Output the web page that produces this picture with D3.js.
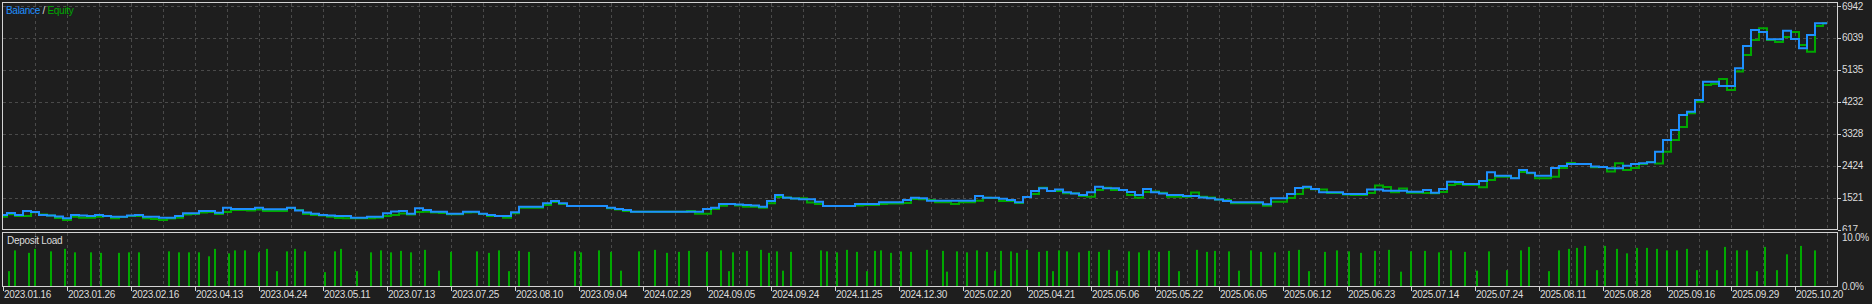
<!DOCTYPE html>
<html>
<head>
<meta charset="utf-8">
<script src="https://cdn.jsdelivr.net/npm/d3@7"></script>
<style>
  html, body { margin: 0; padding: 0; background: #1e1e1e; }
  svg { display: block; }
  text { font-family: "Liberation Sans", Arial, sans-serif; font-size: 10px; fill: #dcdcdc; letter-spacing: -0.3px; }
</style>
</head>
<body>
<svg id="chart" width="1872" height="304"></svg>
<script>
// x axis labels, one every 32 deals
var dateLabels = ["2023.01.16", "2023.01.26", "2023.02.16", "2023.04.13", "2023.04.24", "2023.05.11",
  "2023.07.13", "2023.07.25", "2023.08.10", "2023.09.04", "2024.02.29", "2024.09.05", "2024.09.24",
  "2024.11.25", "2024.12.30", "2025.02.20", "2025.04.21", "2025.05.06", "2025.05.22", "2025.06.05",
  "2025.06.12", "2025.06.23", "2025.07.14", "2025.07.24", "2025.08.11", "2025.08.28", "2025.09.16",
  "2025.09.29", "2025.10.20"];
var yTicks = [617, 1521, 2424, 3328, 4232, 5135, 6039, 6942];
var loadTicks = [0, 10];

// balance / equity, one value every 4 deals
var balance = [1027, 1085, 1027, 1141, 1110, 1027, 1013, 985, 934, 1027,
  1013, 999, 1027, 999, 979, 979, 1013, 1027, 979, 979,
  951, 951, 999, 1075, 1075, 1141, 1141, 1092, 1234, 1197,
  1197, 1197, 1234, 1189, 1189, 1189, 1234, 1155, 1098, 1064,
  1027, 1013, 999, 999, 951, 951, 979, 979, 1075, 1127,
  1141, 1064, 1217, 1169, 1121, 1121, 1064, 1064, 1121, 1121,
  1064, 1027, 999, 999, 1104, 1262, 1262, 1262, 1358, 1424,
  1358, 1282, 1282, 1282, 1282, 1282, 1234, 1197, 1169, 1121,
  1121, 1121, 1121, 1121, 1121, 1121, 1121, 1121, 1197, 1234,
  1339, 1339, 1325, 1310, 1296, 1262, 1424, 1593, 1517, 1495,
  1472, 1472, 1404, 1282, 1282, 1282, 1282, 1339, 1339, 1339,
  1387, 1387, 1387, 1452, 1517, 1500, 1432, 1432, 1432, 1432,
  1432, 1432, 1565, 1517, 1517, 1486, 1452, 1387, 1537, 1707,
  1783, 1707, 1749, 1670, 1636, 1593, 1670, 1828, 1783, 1783,
  1735, 1679, 1593, 1763, 1670, 1636, 1593, 1593, 1565, 1565,
  1523, 1500, 1466, 1424, 1387, 1387, 1387, 1387, 1330, 1500,
  1500, 1622, 1791, 1828, 1763, 1670, 1670, 1670, 1622, 1622,
  1622, 1749, 1749, 1715, 1715, 1715, 1687, 1687, 1735, 1658,
  1763, 1970, 1961, 1905, 1905, 1990, 2236, 2140, 2140, 2066,
  2301, 2224, 2140, 2140, 2357, 2414, 2471, 2471, 2471, 2400,
  2386, 2349, 2349, 2423, 2471, 2490, 2519, 2819, 3150, 3433,
  3858, 3951, 4282, 4800, 4800, 4678, 4678, 5179, 5810, 6263,
  6206, 6000, 6000, 6243, 6008, 5745, 6121, 6452, 6452];

var equity = [979, 1047, 999, 999, 1104, 1041, 1013, 942, 886, 979,
  951, 951, 979, 999, 934, 971, 999, 999, 934, 914,
  886, 928, 951, 1041, 1055, 1098, 1110, 1055, 1110, 1169,
  1169, 1155, 1183, 1141, 1141, 1141, 1225, 1169, 1055, 1027,
  1013, 979, 942, 934, 934, 934, 934, 951, 999, 1027,
  1070, 1041, 1110, 1121, 1098, 1085, 1047, 1047, 1098, 1104,
  1055, 999, 999, 951, 1075, 1234, 1234, 1234, 1310, 1396,
  1339, 1282, 1282, 1282, 1282, 1282, 1217, 1183, 1141, 1121,
  1121, 1121, 1121, 1121, 1121, 1121, 1141, 1064, 1064, 1197,
  1291, 1339, 1296, 1262, 1262, 1234, 1358, 1537, 1523, 1495,
  1500, 1378, 1339, 1282, 1282, 1282, 1282, 1296, 1310, 1310,
  1339, 1353, 1353, 1367, 1480, 1472, 1452, 1387, 1387, 1339,
  1387, 1387, 1432, 1517, 1509, 1424, 1424, 1367, 1537, 1622,
  1800, 1707, 1707, 1642, 1642, 1565, 1545, 1735, 1800, 1735,
  1735, 1593, 1517, 1679, 1693, 1658, 1545, 1545, 1545, 1664,
  1545, 1523, 1466, 1452, 1358, 1358, 1358, 1358, 1291, 1404,
  1404, 1509, 1622, 1800, 1755, 1749, 1650, 1650, 1608, 1593,
  1593, 1650, 1862, 1820, 1670, 1777, 1658, 1658, 1650, 1642,
  1679, 1876, 1905, 1876, 1876, 1811, 2018, 2112, 2112, 2074,
  2245, 2207, 2066, 2066, 2112, 2357, 2499, 2471, 2471, 2377,
  2386, 2258, 2490, 2301, 2357, 2471, 2528, 2485, 2819, 3150,
  3518, 3906, 4234, 4707, 4735, 4876, 4565, 5085, 5555, 5980,
  6311, 5980, 5924, 6065, 6206, 5838, 5650, 6376, 6452];

// deposit load (%) by deal number
var loadDeals = [3, 6, 13, 16, 24, 31, 36, 44, 49, 58, 63, 68, 83, 88, 93, 98, 103, 106, 113, 116,
  121, 128, 132, 137, 142, 146, 151, 161, 166, 169, 177, 184, 189, 194,
  199, 204, 211, 218, 224, 237, 243, 248, 253, 258, 263, 286, 289, 298, 304, 309, 318, 326, 332, 338, 343,
  352, 359, 363, 365, 372, 379, 383, 387, 390, 394, 409, 412, 417, 422, 427, 432, 436, 439, 444, 449,
  454, 462, 470, 472, 477, 482, 487, 492, 496, 499, 504, 507, 512, 518, 522, 525, 528, 532, 538, 543,
  548, 553, 557, 563, 568, 573, 578, 583, 588, 597, 602, 606,
  613, 618, 624, 629, 636, 643, 648, 653, 661, 667, 673, 679, 686, 693, 699, 704, 711, 718, 724, 731, 737, 743,
  752, 759, 763, 773, 778, 783, 787, 791, 797, 801, 807, 812, 817, 822, 827, 832, 837, 842, 847, 852,
  857, 861, 867, 872, 877, 881, 887, 892, 899, 906];
var loadValues = [3.1, 7.3, 6.8, 7.6, 7.1, 7.6, 6.9, 6.9, 6.8, 6.8, 6.9, 6.9, 7.1, 6.9, 6.9, 6.9, 6.1, 7.6, 6.7, 7.3,
  7.3, 6.9, 7.6, 3.1, 7.1, 7.6, 7.1, 2.9, 7.1, 7.6, 3.1, 6.9, 7.3, 6.9,
  7.2, 6.9, 7.4, 3.2, 7.0, 7.1, 6.8, 7.3, 3.1, 7.2, 7.0, 7.1, 6.9, 7.3, 7.0, 3.2, 7.1, 7.4, 6.8, 7.0, 7.2,
  7.0, 7.3, 3.1, 6.9, 7.2, 7.4, 6.8, 7.1, 3.2, 7.0, 7.3, 7.1, 6.9, 7.4, 7.0, 3.1, 7.2, 7.3, 6.8, 7.1,
  7.0, 7.4, 7.2, 3.0, 7.1, 6.9, 7.3, 7.0, 3.2, 7.2, 7.1, 6.8, 7.4, 7.0, 7.2, 3.1, 7.3, 7.1, 6.9, 7.2,
  7.0, 7.4, 3.2, 7.1, 6.9, 7.3, 7.0, 7.2, 3.1, 7.4, 7.0, 7.2,
  7.1, 3.2, 7.3, 7.0, 6.9, 7.2, 7.4, 3.1, 7.0, 7.3, 7.1, 6.8, 7.2, 7.4, 3.0, 7.1, 7.2, 6.9, 7.3, 7.0, 3.2, 7.1,
  3.3, 7.3, 8.0, 3.1, 7.3, 7.6, 7.8, 8.2, 3.3, 8.2, 7.6, 6.7, 7.8, 7.8, 7.6, 7.3, 7.3, 7.6, 3.3, 7.3,
  3.3, 8.0, 7.3, 7.3, 3.1, 8.0, 3.3, 6.5, 8.2, 7.3];

var svg = d3.select("#chart");
var bg = "#1e1e1e", border = "#d4d4d4", gridColor = "#4a4a4a";
var blue = "#1e90ff", green = "#00a800";

var x = d3.scaleLinear().domain([0, 916]).range([3, 1835]);
var y = d3.scaleLinear().domain([617, 6942]).range([229.5, 6]);
var yLoad = d3.scaleLinear().domain([0, 10]).range([286.5, 237]);

svg.append("rect").attr("width", 1872).attr("height", 304).attr("fill", bg);

// main panel grid
var gridDeals = d3.range(16, 913, 16);
var grid = svg.append("g").attr("stroke", gridColor).attr("stroke-dasharray", "3,3");
grid.selectAll(".vm").data(gridDeals).enter().append("line")
  .attr("x1", function (d) { return Math.round(x(d)) + 0.5; })
  .attr("x2", function (d) { return Math.round(x(d)) + 0.5; })
  .attr("y1", 3).attr("y2", 229);
grid.selectAll(".hm").data(yTicks.slice(1)).enter().append("line")
  .attr("x1", 3).attr("x2", 1837)
  .attr("y1", function (d) { return Math.round(y(d)) + 0.5; })
  .attr("y2", function (d) { return Math.round(y(d)) + 0.5; });

// y axis labels + ticks
svg.selectAll(".ylab").data(yTicks).enter().append("text")
  .attr("x", 1842).attr("y", function (d) { return y(d); })
  .attr("dy", "0.35em").text(function (d) { return d; });
svg.selectAll(".ytick").data(yTicks).enter().append("line")
  .attr("x1", 1838).attr("x2", 1841)
  .attr("y1", function (d) { return Math.round(y(d)) + 0.5; })
  .attr("y2", function (d) { return Math.round(y(d)) + 0.5; })
  .attr("stroke", border);

// lines (stepped like the tester's deal-by-deal curve)
var clip = svg.append("clipPath").attr("id", "mainClip");
clip.append("rect").attr("x", 3).attr("y", 3).attr("width", 1834).attr("height", 226);

var line = d3.line()
  .curve(d3.curveStep)
  .x(function (d, i) { return x(i * 4); })
  .y(function (d) { return y(d); });

svg.append("path").datum(equity).attr("clip-path", "url(#mainClip)")
  .attr("fill", "none").attr("stroke", green).attr("stroke-width", 2)
  .attr("d", line);
svg.append("path").datum(balance).attr("clip-path", "url(#mainClip)")
  .attr("fill", "none").attr("stroke", blue).attr("stroke-width", 2)
  .attr("d", line);

svg.append("rect").attr("x", 2.5).attr("y", 2.5).attr("width", 1835).attr("height", 227)
  .attr("fill", "none").attr("stroke", border);

var legend = svg.append("text").attr("x", 6).attr("y", 14);
legend.append("tspan").text("Balance").style("fill", blue);
legend.append("tspan").text(" / ").style("fill", "#dcdcdc");
legend.append("tspan").text("Equity").style("fill", green);

// deposit load panel
svg.append("rect").attr("x", 0).attr("y", 231).attr("width", 1872).attr("height", 73).attr("fill", bg);

var grid2 = svg.append("g").attr("stroke", gridColor).attr("stroke-dasharray", "3,3");
grid2.selectAll("line").data(gridDeals).enter().append("line")
  .attr("x1", function (d) { return Math.round(x(d)) + 0.5; })
  .attr("x2", function (d) { return Math.round(x(d)) + 0.5; })
  .attr("y1", 233).attr("y2", 286);

svg.append("g").selectAll("rect").data(loadValues).enter().append("rect")
  .attr("x", function (d, i) { return Math.round(x(loadDeals[i])) - 1; })
  .attr("width", 2)
  .attr("y", function (d) { return yLoad(d); })
  .attr("height", function (d) { return yLoad(0) - yLoad(d); })
  .attr("fill", green);

svg.append("rect").attr("x", 2.5).attr("y", 232.5).attr("width", 1835).attr("height", 54)
  .attr("fill", "none").attr("stroke", border);

svg.append("text").attr("x", 7).attr("y", 244).text("Deposit Load");

svg.selectAll(".llab").data(loadTicks).enter().append("text")
  .attr("x", 1842).attr("y", function (d) { return d === 0 ? 290 : 241; })
  .text(function (d) { return d.toFixed(1) + "%"; });

// x axis
svg.selectAll(".xtick").data(dateLabels).enter().append("line")
  .attr("x1", function (d, i) { return Math.round(x(i * 32)) + 0.5; })
  .attr("x2", function (d, i) { return Math.round(x(i * 32)) + 0.5; })
  .attr("y1", 287).attr("y2", 291)
  .attr("stroke", border);
svg.selectAll(".xlab").data(dateLabels).enter().append("text")
  .attr("x", function (d, i) { return x(i * 32) + 1; })
  .attr("y", 298)
  .text(function (d) { return d; });
</script>
</body>
</html>
